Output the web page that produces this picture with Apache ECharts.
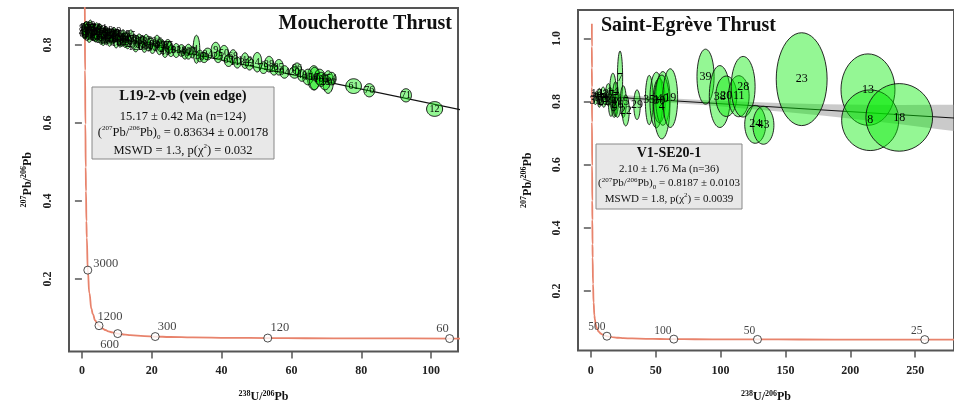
<!DOCTYPE html>
<html><head><meta charset="utf-8">
<script src="https://cdn.jsdelivr.net/npm/echarts@6/dist/echarts.min.js"></script>
<style>html,body{margin:0;padding:0;background:#fff}#c{width:954px;height:408px}</style>
</head><body><div id="c"></div>
<script>
// ---------- concordia (Tera-Wasserburg) reference curve ----------
const concAge=[5300,5200,5100,5000,4800,4500,4200,4000,3700,3500,3000,2500,2000,1800,1500,1350,1200,1000,900,800,700,600,500,450,350,300,250,200,150,120,100,80,60,50,40,30,25,20];
const concX=[0.7841,0.8062,0.829,0.853,0.9046,0.990,1.0887,1.163,1.2898,1.3868,1.687,2.1108,2.749,3.1046,3.817,4.2925,4.887,5.959,6.674,7.568,8.718,10.252,12.399,13.831,17.923,20.99,25.289,31.735,42.478,53.22,63.97,80.08,106.94,128.43,160.66,214.38,257.36,321.82];
const concY=[1.0462,0.9742,0.907,0.846,0.735,0.597,0.4865,0.4252,0.3486,0.306,0.2227,0.1643,0.1230,0.1101,0.0936,0.0866,0.0802,0.0725,0.0691,0.0658,0.0628,0.0599,0.0573,0.0560,0.0535,0.05235,0.0512,0.0501,0.0491,0.04845,0.04804,0.04763,0.04723,0.04704,0.04684,0.04664,0.04655,0.04645];
// concordia age markers
const mkL_age=[3000,1200,600,300,120,60];
const mkL_x=[1.687,4.887,10.252,20.99,53.22,105.3];
const mkL_y=[0.2227,0.0802,0.0599,0.05235,0.04845,0.0472];
const mkR_age=[500,100,50,25];
const mkR_x=[12.399,63.97,128.43,257.36];
const mkR_y=[0.0573,0.04804,0.04704,0.04655];
// ---------- left panel: L19-2-vb (n=124) ----------
const L_id=[88,3,47,102,15,64,29,111,8,53,97,21,70,118,36,84,5,59,123,42,93,17,66,109,31,78,10,55,100,24,69,115,39,86,2,49,95,27,73,120,44,90,13,58,104,33,80,7,51,98,26,72,117,40,87,19,62,106,35,81,11,57,103,30,77,121,46,92,16,63,1,23,9,50,34,68,112,4,38,85,20,96,14,45,6,74,116,28,99,41,83,18,60,107,37,89,25,67,113,32,79,22,94,48,105,54,61,76,71,12,43,52,56,65,75,82,91,101,108,110,114,119,122,124];
const L_x=[0.6,0.9,1.2,1.5,1.8,2.1,2.4,2.8,3.1,3.5,3.9,4.2,4.6,5.0,5.3,5.7,6.1,6.4,6.8,7.2,7.5,7.9,8.3,8.7,9.0,9.4,9.8,10.2,10.6,11.0,11.4,11.8,12.2,12.7,13.1,13.6,14.0,14.5,15.0,15.4,15.9,16.4,16.9,17.4,17.9,18.4,19.0,19.6,20.2,20.8,21.5,22.2,23.0,23.8,24.6,25.5,0.7,1.4,2.0,2.6,3.3,4.0,4.8,5.5,6.6,7.7,8.5,9.6,10.9,12.0,32.8,31.6,38.3,40.7,36.0,43.3,46.7,50.2,53.6,56.4,60.9,61.6,66.4,64.7,66.6,68.1,70.5,69.6,22.5,25.0,27.0,28.5,29.5,30.5,33.8,35.0,39.0,42.0,44.5,48.0,52.0,55.0,58.0,63.0,68.5,71.5,77.8,82.3,92.8,101.0,0.5,1.0,1.7,2.3,2.9,3.7,4.4,5.1,5.9,7.0,8.0,9.2,10.4,12.4];
const L_y=[0.8416,0.8250,0.8485,0.8303,0.8377,0.8180,0.8510,0.8327,0.8225,0.8426,0.8258,0.8460,0.8165,0.8334,0.8216,0.8368,0.8089,0.8275,0.8380,0.8164,0.8303,0.8087,0.8224,0.8312,0.8147,0.8251,0.8036,0.8268,0.8133,0.8205,0.8054,0.8270,0.8119,0.8206,0.8006,0.8141,0.8245,0.8028,0.8147,0.7947,0.8082,0.8152,0.7999,0.8086,0.7932,0.8131,0.7976,0.8060,0.7905,0.8006,0.8089,0.7884,0.7981,0.7822,0.7983,0.7854,0.8270,0.8437,0.8268,0.8420,0.8363,0.8178,0.8413,0.8132,0.8320,0.8235,0.8118,0.8306,0.8065,0.8203,0.789,0.782,0.786,0.779,0.777,0.770,0.760,0.756,0.751,0.743,0.730,0.739,0.716,0.718,0.714,0.718,0.705,0.705,0.800,0.793,0.786,0.786,0.778,0.783,0.772,0.768,0.770,0.760,0.755,0.752,0.742,0.737,0.731,0.722,0.712,0.714,0.6946,0.684,0.671,0.636,0.8330,0.8460,0.8250,0.8350,0.8440,0.8190,0.8320,0.8420,0.8230,0.8120,0.8300,0.8350,0.8170,0.8060];
const L_rx=[0.6,0.5,0.7,0.6,0.5,0.7,0.6,0.8,0.6,0.7,0.5,0.6,0.7,0.6,0.5,0.8,0.6,0.7,0.6,0.5,0.7,0.6,0.8,0.6,0.7,0.5,0.6,0.7,0.6,0.8,0.6,0.7,0.6,0.8,0.7,0.6,0.8,0.7,0.6,0.8,0.7,0.9,0.7,0.8,0.7,0.8,0.7,0.9,0.8,0.7,0.9,0.8,0.9,0.8,1.0,0.9,0.6,0.7,0.5,0.6,0.7,0.6,0.5,0.7,0.6,0.8,0.6,0.7,0.6,0.7,0.95,0.8,1.3,1.3,1.3,1.1,1.1,1.3,1.3,1.3,1.5,1.3,1.8,1.5,1.5,1.5,1.5,1.5,0.9,1.0,1.0,1.1,0.9,1.1,1.0,1.1,1.1,1.2,1.0,1.1,1.2,1.1,1.3,1.2,1.4,1.3,2.24,1.57,1.57,2.29,0.6,0.7,0.6,0.8,0.6,0.7,0.6,0.7,0.8,0.6,0.7,0.6,0.7,0.8];
const L_ry=[0.010,0.009,0.012,0.011,0.009,0.011,0.013,0.010,0.009,0.012,0.010,0.011,0.009,0.012,0.010,0.011,0.010,0.013,0.009,0.011,0.010,0.012,0.009,0.011,0.010,0.012,0.011,0.013,0.010,0.011,0.009,0.012,0.011,0.013,0.010,0.012,0.014,0.011,0.013,0.012,0.014,0.013,0.011,0.015,0.012,0.014,0.013,0.015,0.012,0.014,0.016,0.013,0.015,0.014,0.016,0.015,0.011,0.010,0.012,0.009,0.011,0.010,0.012,0.011,0.010,0.012,0.011,0.009,0.012,0.011,0.036,0.015,0.021,0.020,0.015,0.018,0.020,0.025,0.020,0.020,0.015,0.015,0.031,0.020,0.029,0.020,0.029,0.020,0.017,0.015,0.018,0.015,0.014,0.019,0.015,0.013,0.015,0.015,0.014,0.016,0.015,0.014,0.016,0.015,0.018,0.016,0.0189,0.0169,0.0169,0.0189,0.010,0.012,0.011,0.009,0.012,0.010,0.011,0.012,0.010,0.011,0.012,0.010,0.011,0.012];
const L_lineX=[0,115];
const L_lineY=[0.8363,0.6217];
const L_xticks=[0,20,40,60,80,100];
const L_yticks=[0.2,0.4,0.6,0.8];
// ---------- right panel: V1-SE20-1 (n=36) ----------
const R_id=[31,12,33,37,6,42,21,2,27,16,34,14,9,5,26,7,15,22,29,35,1,30,40,4,19,39,38,20,11,28,24,43,23,13,8,18];
const R_x=[3.5,4.5,5.0,6.5,8.0,9.5,10.0,11.0,13.5,14.5,15.5,17.0,18.0,19.0,20.5,22.5,25.0,26.9,35.6,45.0,50.5,52.7,55.5,54.7,61.2,88.4,99.4,104.4,114.0,117.4,126.7,133.0,162.5,213.6,215.3,237.7];
const R_y=[0.803,0.823,0.815,0.812,0.800,0.826,0.800,0.810,0.822,0.810,0.798,0.830,0.780,0.808,0.790,0.875,0.800,0.772,0.790,0.805,0.805,0.803,0.810,0.783,0.811,0.879,0.816,0.817,0.817,0.847,0.728,0.725,0.871,0.838,0.741,0.750];
const R_rx=[1.5,1.0,1.0,1.5,1.2,1.8,1.5,1.5,2.2,1.5,2.0,2.5,2.0,2.3,2.5,2.0,2.3,2.7,2.5,3.0,5.0,4.7,5.5,6.2,5.7,6.6,8.1,8.1,8.0,9.2,8.1,8.1,19.6,20.8,22.0,25.7];
const R_ry=[0.012,0.010,0.015,0.030,0.012,0.020,0.018,0.020,0.035,0.020,0.045,0.060,0.030,0.055,0.040,0.085,0.050,0.049,0.047,0.078,0.088,0.070,0.085,0.101,0.093,0.087,0.098,0.064,0.065,0.096,0.060,0.060,0.147,0.113,0.096,0.107];
const R_lineX=[0,290];
const R_lineY=[0.8187,0.7457];
const R_bandX=[0,30,60,90,120,150,180,210,240,270,290];
const R_bandUp=[0.8287,0.8192,0.8106,0.8041,0.7995,0.7950,0.7914,0.7899,0.7893,0.7898,0.7897];
const R_bandLo=[0.8087,0.8032,0.7966,0.7881,0.7775,0.7670,0.7554,0.7419,0.7273,0.7118,0.7017];
const R_xticks=[0,50,100,150,200,250];
const R_yticks=[0.2,0.4,0.6,0.8,1.0];

// ---------- styling ----------
const FF="'Liberation Serif','Times New Roman',serif";
const FILL='rgba(0,235,0,0.42)';
const CONC='#e8836c';
const chart=echarts.init(document.getElementById('c'),null,{renderer:'canvas'});

function ellipseSeries(xi,ids,xs,ys,rxs,rys,lw){
  return {type:'custom',xAxisIndex:xi,yAxisIndex:xi,z:3,clip:true,
    encode:{x:0,y:1},
    data:xs.map((x,i)=>[x,ys[i],rxs[i],rys[i],ids[i]]),
    renderItem:function(p,api){
      const c=api.coord([api.value(0),api.value(1)]);
      const s=api.size([api.value(2),api.value(3)],[api.value(0),api.value(1)]);
      const pts=[];
      for(let k=0;k<48;k++){const a=k/48*Math.PI*2;pts.push([c[0]+s[0]*Math.cos(a),c[1]+s[1]*Math.sin(a)]);}
      return {type:'polygon',shape:{points:pts},style:{fill:FILL,stroke:'#111',lineWidth:lw}};
    }};
}
function labelSeries(xi,ids,xs,ys,fs){
  return {type:'custom',xAxisIndex:xi,yAxisIndex:xi,z:4,clip:true,silent:true,
    encode:{x:0,y:1},
    data:xs.map((x,i)=>[x,ys[i],ids[i]]),
    renderItem:function(p,api){
      const c=api.coord([api.value(0),api.value(1)]);
      return {type:'text',style:{text:String(api.value(2)),x:c[0],y:c[1],textAlign:'center',align:'center',textVerticalAlign:'middle',verticalAlign:'middle',font:fs+'px '+FF,fill:'#000'}};
    }};
}
function concSeries(xi){
  return {type:'line',xAxisIndex:xi,yAxisIndex:xi,z:2,showSymbol:false,smooth:true,smoothMonotone:'x',
    lineStyle:{color:CONC,width:1.8},data:concX.map((x,i)=>[x,concY[i]]),silent:true};
}
const mkStyleL={3000:{position:'right',distance:1,offset:[0,-6]},1200:{position:'top',distance:0,offset:[11,2]},600:{position:'bottom',distance:0,offset:[-8,0]},300:{position:'top',distance:0,offset:[12,1]},120:{position:'top',distance:0,offset:[12,1]},60:{position:'top',distance:0,offset:[-7,1]}};
const mkStyleR={500:{position:'top',distance:0,offset:[-10,1]},100:{position:'top',distance:0,offset:[-11,2]},50:{position:'top',distance:0,offset:[-8,2]},25:{position:'top',distance:0,offset:[-8,2]}};
function markerSeries(xi,ages,xs,ys,st,fs){
  return {type:'scatter',xAxisIndex:xi,yAxisIndex:xi,z:6,symbol:'circle',symbolSize:8,silent:true,
    itemStyle:{color:'#fff',borderColor:'#222',borderWidth:1},
    data:xs.map((x,i)=>({value:[x,ys[i]],label:Object.assign({show:true,formatter:String(ages[i]),fontFamily:FF,fontSize:fs,color:'#111'},st[ages[i]])}))};
}
function discSeries(xi,lx,ly){
  return {type:'line',xAxisIndex:xi,yAxisIndex:xi,z:2,showSymbol:false,silent:true,lineStyle:{color:'#111',width:1.1},data:lx.map((x,i)=>[x,ly[i]])};
}
const bandSeries={type:'custom',xAxisIndex:1,yAxisIndex:1,z:1,clip:true,silent:true,data:[[0,0.8]],encode:{x:0,y:1},
  renderItem:function(p,api){
    const pts=[];
    R_bandX.forEach((x,i)=>pts.push(api.coord([x,R_bandUp[i]])));
    for(let i=R_bandX.length-1;i>=0;i--)pts.push(api.coord([R_bandX[i],R_bandLo[i]]));
    return {type:'polygon',shape:{points:pts},style:{fill:'rgba(150,150,150,0.5)'}};
  }};

const richSup={
  s:{fontSize:8,fontWeight:'bold',fontFamily:FF,verticalAlign:'top',lineHeight:9,color:'#111'},
  m:{fontSize:12,fontWeight:'bold',fontFamily:FF,lineHeight:15,color:'#111'}
};
function xAx(gi,min,max,ticks,gap,lm){
  return {gridIndex:gi,type:'value',min:min,max:max,splitLine:{show:false},axisLine:{show:false},
    axisTick:{show:true,length:7,lineStyle:{color:'#555',width:1.5},customValues:ticks},
    axisLabel:{customValues:ticks,fontFamily:FF,fontWeight:'bold',fontSize:12,color:'#222',margin:lm},
    name:'{s|238}{m|U/}{s|206}{m|Pb}',nameLocation:'middle',nameGap:gap,nameTextStyle:{rich:richSup,fontFamily:FF}};
}
function yAx(gi,min,max,ticks,gap,lm){
  return {gridIndex:gi,type:'value',min:min,max:max,splitLine:{show:false},axisLine:{show:false},
    axisTick:{show:true,length:7,lineStyle:{color:'#555',width:1.5},customValues:ticks},
    axisLabel:{customValues:ticks,rotate:90,formatter:v=>v.toFixed(1),fontFamily:FF,fontWeight:'bold',fontSize:12,color:'#222',margin:lm},
    name:'{s|207}{m|Pb/}{s|206}{m|Pb}',nameLocation:'middle',nameRotate:90,nameGap:gap,nameTextStyle:{rich:richSup,fontFamily:FF}};
}
const boxRich={
  b:{fontFamily:FF,fontWeight:'bold',color:'#111'},
  s:{fontSize:7,fontFamily:FF,verticalAlign:'top',lineHeight:8,color:'#111'},
  u:{fontSize:7,fontFamily:FF,verticalAlign:'bottom',lineHeight:8,color:'#111'}
};
function txt(x,y,t,size,weight,align){
  const r=JSON.parse(JSON.stringify(boxRich));
  r.n={fontSize:size,fontFamily:FF,fontWeight:weight,lineHeight:size+3,color:'#111'};
  r.b.fontSize=size;r.b.lineHeight=size+3;
  return {type:'text',x:x,y:y,z:100,style:{text:t,rich:r,font:weight+' '+size+'px '+FF,fill:'#111',textAlign:align||'center',align:align||'center',textVerticalAlign:'middle',verticalAlign:'middle'}};
}

chart.setOption({
  backgroundColor:'#fff',animation:false,
  grid:[
    {left:69,top:8,width:389,height:349,show:true,borderColor:'#555',borderWidth:2,backgroundColor:'transparent'},
    {left:578,top:10,width:388,height:347,show:true,borderColor:'#555',borderWidth:2,backgroundColor:'transparent'}
  ],
  xAxis:[xAx(0,-3.7,107.7,L_xticks,38,13),xAx(1,-9.9,279.9,R_xticks,39,14)],
  yAxis:[yAx(0,0.014,0.895,L_yticks,34,15),yAx(1,0.012,1.09,R_yticks,43,15)],
  series:[
    concSeries(0),concSeries(1),
    discSeries(0,L_lineX,L_lineY),bandSeries,discSeries(1,R_lineX,R_lineY),
    ellipseSeries(0,L_id,L_x,L_y,L_rx,L_ry,1),labelSeries(0,L_id,L_x,L_y,10),
    ellipseSeries(1,R_id,R_x,R_y,R_rx,R_ry,0.9),labelSeries(1,R_id,R_x,R_y,12),
    markerSeries(0,mkL_age,mkL_x,mkL_y,mkStyleL,12.5),markerSeries(1,mkR_age,mkR_x,mkR_y,mkStyleR,11.5)
  ],
  graphic:[
    txt(452,24,'{b|Moucherotte Thrust}',20,'bold','right'),
    txt(601,25.5,'{b|Saint-Egrève Thrust}',20,'bold','left'),
    {type:'rect',z:90,shape:{x:92,y:87,width:182,height:72},style:{fill:'#e8e8e8',stroke:'#888',lineWidth:1}},
    txt(183,96.7,'{b|L19-2-vb (vein edge)}',14.5,'bold'),
    txt(183,116.7,'{n|15.17 ± 0.42 Ma (n=124)}',12.5,'normal'),
    txt(183,132.7,'{n|(}{s|207}{n|Pb/}{s|206}{n|Pb)}{u|0}{n| = 0.83634 ± 0.00178}',12.5,'normal'),
    txt(183,150.7,'{n|MSWD = 1.3, p(χ}{s|2}{n|) = 0.032}',12.5,'normal'),
    {type:'rect',z:90,shape:{x:596,y:144,width:146,height:65},style:{fill:'#e8e8e8',stroke:'#888',lineWidth:1}},
    txt(669,153.3,'{b|V1-SE20-1}',14,'bold'),
    txt(669,169,'{n|2.10 ± 1.76 Ma (n=36)}',11,'normal'),
    txt(669,183.5,'{n|(}{s|207}{n|Pb/}{s|206}{n|Pb)}{u|0}{n| = 0.8187 ± 0.0103}',11,'normal'),
    txt(669,199,'{n|MSWD = 1.8, p(χ}{s|2}{n|) = 0.0039}',11,'normal')
  ]
});
</script></body></html>
